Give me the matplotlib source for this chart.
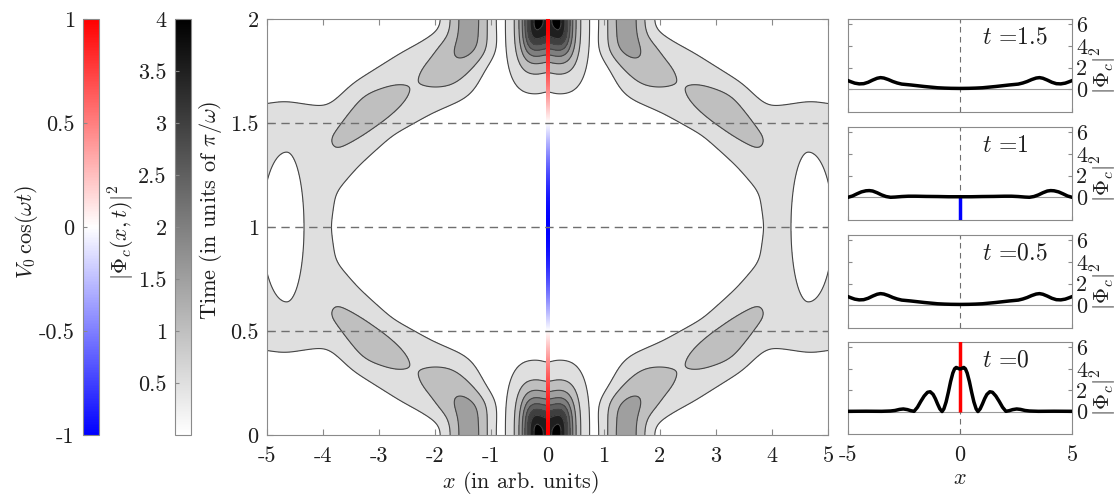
import numpy as np
import matplotlib
matplotlib.use('Agg')
import matplotlib.pyplot as plt
from matplotlib.colors import Normalize
from matplotlib.cm import ScalarMappable
from matplotlib.ticker import FixedLocator, FixedFormatter

plt.rcParams['font.family'] = 'serif'
plt.rcParams['font.serif'] = ['cmr10']
plt.rcParams['mathtext.fontset'] = 'cm'
plt.rcParams['axes.unicode_minus'] = False
plt.rcParams['axes.formatter.use_mathtext'] = True

# snapshots of |Phi_c|^2 at t = 0, 0.5 (= 1.5) and 1 (right half, mirrored below)
x_t0 = [0, 0.05, 0.1, 0.17, 0.24, 0.32, 0.42, 0.52, 0.62, 0.72, 0.8, 0.9, 1.0, 1.1,
        1.2, 1.33, 1.45, 1.6, 1.75, 1.9, 2.05, 2.2, 2.35, 2.53, 2.7, 2.9, 3.1, 3.5,
        4.2, 5.0]
rho_t0 = [3.98, 4.0, 4.06, 4.12, 4.0, 3.6, 2.8, 1.8, 0.9, 0.25, 0.0, 0.25, 0.7, 1.2,
          1.6, 1.85, 1.8, 1.45, 0.95, 0.4, 0.02, 0.08, 0.18, 0.24, 0.2, 0.1, 0.05, 0.02,
          0.03, 0.02]

x_t05 = [0, 0.4, 0.7, 1.0, 1.3, 1.6, 1.9, 2.2, 2.4, 2.6, 2.8, 3.0, 3.2, 3.4, 3.55,
         3.7, 3.9, 4.1, 4.3, 4.5, 4.7, 4.85, 5.0]
rho_t05 = [0.08, 0.09, 0.11, 0.14, 0.2, 0.26, 0.33, 0.4, 0.44, 0.48, 0.58, 0.72, 0.9,
           1.04, 1.08, 1.02, 0.85, 0.65, 0.52, 0.5, 0.57, 0.68, 0.8]

x_t1 = [0, 0.5, 1.0, 1.5, 2.0, 2.3, 2.6, 2.9, 3.1, 3.3, 3.5, 3.7, 3.9, 4.05, 4.2,
        4.4, 4.6, 4.8, 5.0]
rho_t1 = [0.05, 0.05, 0.07, 0.08, 0.1, 0.1, 0.07, 0.02, 0.0, 0.07, 0.22, 0.42, 0.58,
          0.62, 0.6, 0.5, 0.32, 0.12, 0.0]

panel_times = [1.5, 1, 0.5, 0]
panel_labels = ['1.5', '1', '0.5', '0']

# central lobe: peak value, half-width (x) and half-height (t) of the 0.5 contour
lobe_peak = 4.17
lobe_halfwidth = 0.60
lobe_halfheight = 0.36

# ridges of the density carpet (x >= 0, t <= 1; mirrored to the rest)
# x, t, half-width at the 0.5 level, ridge height
ridge_a_x = [1.38, 1.42, 1.82, 2.35, 3.10, 3.70, 4.10, 4.13]
ridge_a_t = [-0.10, 0.12, 0.24, 0.31, 0.43, 0.58, 0.80, 1.05]
ridge_a_w = [0.42, 0.49, 0.62, 0.60, 0.57, 0.56, 0.34, 0.25]
ridge_a_h = [2.05, 1.90, 1.30, 0.97, 1.30, 1.08, 0.82, 0.75]

ridge_b_x = [3.70, 4.70, 5.40]
ridge_b_t = [0.58, 0.60, 0.66]
ridge_b_w = [0.56, 0.76, 0.90]
ridge_b_h = [1.00, 0.85, 0.90]

# low-density island near the edge at t = 1
island_x, island_t = 4.65, 1.0
island_ax = (0.31, 0.44)   # reach to the left / right
island_at = 0.36

t_stretch = 3.71  # plot units of t per unit of x on screen

xg = np.linspace(-5.5, 5.5, 881)
tg = np.linspace(0, 2, 801)
X, T = np.meshgrid(xg, tg)
AX = np.abs(X)
TAU = 1 - np.abs(1 - T)


def ridge(px, pt, pw, ph):
    out = np.zeros_like(AX)
    ys = TAU * t_stretch
    for i in range(len(px) - 1):
        x0, y0 = px[i], pt[i] * t_stretch
        x1, y1 = px[i + 1], pt[i + 1] * t_stretch
        dx, dy = x1 - x0, y1 - y0
        u = np.clip(((AX - x0) * dx + (ys - y0) * dy) / (dx * dx + dy * dy), 0, 1)
        d = np.hypot(AX - x0 - u * dx, ys - y0 - u * dy)
        w = pw[i] + (pw[i + 1] - pw[i]) * u
        h = ph[i] + (ph[i + 1] - ph[i]) * u
        out = np.maximum(out, h * (0.5 / h) ** ((d / w) ** 2))
    return out


def soften(a, sig_x, sig_t):
    # gaussian blur in grid samples, mirrored at the borders
    for axis, sig in ((1, sig_x), (0, sig_t)):
        n = int(3 * sig)
        k = np.exp(-0.5 * (np.arange(-n, n + 1) / sig) ** 2)
        k /= k.sum()
        pad = [(0, 0), (0, 0)]
        pad[axis] = (n, n)
        b = np.pad(a, pad, mode='reflect')
        a = np.apply_along_axis(lambda v: np.convolve(v, k, mode='valid'), axis, b)
    return a


xs = np.clip(AX - 0.15, 0, None)
r = ((xs / lobe_halfwidth) ** 3 + (TAU / lobe_halfheight) ** 3) ** (1 / 3)
lobe = lobe_peak / (1 + (r / 0.486) ** 2.76) * (1 - 0.06 * np.exp(-(X / 0.12) ** 2))

band = np.maximum(ridge(ridge_a_x, ridge_a_t, ridge_a_w, ridge_a_h),
                  ridge(ridge_b_x, ridge_b_t, ridge_b_w, ridge_b_h))
band = soften(band, 11, 13)

dx_i = AX - island_x
ri2 = (dx_i / np.where(dx_i < 0, island_ax[0], island_ax[1])) ** 2 + ((TAU - island_t) / island_at) ** 2
band = np.minimum(band, 0.5 * ri2)

dens = np.maximum(lobe, band)

fig = plt.figure(figsize=(11.17, 4.98), dpi=100)
W, H = 1117, 498


def box(x0, y0, x1, y1):
    return [x0 / W, 1 - y1 / H, (x1 - x0) / W, (y1 - y0) / H]


spine_c = '#8a8a8a'
txt_c = '#1e1e1e'
fs = 16

gray = plt.get_cmap('gray_r')
levels = [0.5, 1.0, 1.5, 2.0, 2.5, 3.0, 3.5, 4.0]

# main carpet
ax = fig.add_axes(box(267, 19, 828, 435))
ax.contourf(X, T, dens, levels=levels + [50], colors=[gray(v / 4) for v in levels])
ax.contour(X, T, dens, levels=levels, colors='#444444', linewidths=0.8)
t_strip = np.linspace(0, 2, 400)
ax.imshow(np.cos(np.pi * t_strip)[:, None], extent=[-0.028, 0.028, 0, 2], origin='lower',
          cmap='bwr', vmin=-1, vmax=1, aspect='auto', zorder=3, interpolation='bilinear')
for tl in [0.5, 1.0, 1.5]:
    ax.axhline(tl, color='#6f6f6f', lw=1.0, dashes=(6, 4), zorder=4)
ax.set_xlim(-5, 5)
ax.set_ylim(0, 2)
ax.xaxis.set_major_locator(FixedLocator(range(-5, 6)))
ax.xaxis.set_major_formatter(FixedFormatter([str(v) for v in range(-5, 6)]))
ax.yaxis.set_major_locator(FixedLocator([0, 0.5, 1, 1.5, 2]))
ax.yaxis.set_major_formatter(FixedFormatter(['0', '0.5', '1', '1.5', '2']))
ax.tick_params(direction='in', top=True, right=True, length=4, color=spine_c,
               labelsize=fs, labelcolor=txt_c, pad=6)
ax.tick_params(axis='x', pad=8)
for s in ax.spines.values():
    s.set_color(spine_c)
fig.text(521 / W, 1 - 482 / H, r'$x$ (in arb. units)', fontsize=fs, color=txt_c,
         ha='center', va='center')
fig.text(211 / W, 1 - 210 / H, r'Time (in units of $\pi/\omega$)', fontsize=fs,
         color=txt_c, ha='center', va='center', rotation=90)

# colour bars
cb1 = fig.add_axes(box(83, 19, 99, 435))
bar1 = fig.colorbar(ScalarMappable(Normalize(-1, 1), 'bwr'), cax=cb1)
cb1.yaxis.set_ticks_position('left')
cb1.yaxis.set_major_locator(FixedLocator([-1, -0.5, 0, 0.5, 1]))
cb1.yaxis.set_major_formatter(FixedFormatter(['-1', '-0.5', '0', '0.5', '1']))
fig.text(27 / W, 1 - 232 / H, r'$V_0\,\cos(\omega t)$', fontsize=fs, color=txt_c,
         ha='center', va='center', rotation=90)

cb2 = fig.add_axes(box(175, 19, 191, 435))
bar2 = fig.colorbar(ScalarMappable(Normalize(0, 4), gray), cax=cb2)
cb2.yaxis.set_ticks_position('left')
cb2.yaxis.set_major_locator(FixedLocator([0.5, 1, 1.5, 2, 2.5, 3, 3.5, 4]))
cb2.yaxis.set_major_formatter(FixedFormatter(['0.5', '1', '1.5', '2', '2.5', '3', '3.5', '4']))
fig.text(122 / W, 1 - 232 / H, r'$|\Phi_c(x,t)|^2$', fontsize=fs, color=txt_c,
         ha='center', va='center', rotation=90)

for cax, bar in ((cb1, bar1), (cb2, bar2)):
    cax.tick_params(direction='in', length=3, color=spine_c, labelsize=fs,
                    labelcolor=txt_c, pad=6)
    bar.outline.set_edgecolor(spine_c)

# snapshot panels
rows = [(19, 112), (127, 220), (235, 328), (342, 434)]
profiles = [(x_t05, rho_t05), (x_t1, rho_t1), (x_t05, rho_t05), (x_t0, rho_t0)]
for k, ((y0, y1), (px, py), tp, lab) in enumerate(zip(rows, profiles, panel_times, panel_labels)):
    pa = fig.add_axes(box(848, y0, 1072, y1))
    pa.axhline(0, color='#9a9a9a', lw=0.8)
    pa.axvline(0, color='#6f6f6f', lw=0.8, dashes=(5, 4))
    v = np.cos(np.pi * tp)
    if abs(v) > 1e-6:
        pa.plot([0, 0], [0, 10 * v], color='red' if v > 0 else 'blue', lw=2.5,
                solid_capstyle='butt', zorder=3)
    xx = [-a for a in px[::-1]] + list(px[1:])
    yy = list(py[::-1]) + list(py[1:])
    pa.plot(xx, yy, color='black', lw=2.5, zorder=4, solid_joinstyle='round')
    pa.set_xlim(-5, 5)
    pa.set_ylim(-2.1, 6.5)
    pa.text(0.6, 0.8, r'$t$ =' + lab, transform=pa.transAxes, fontsize=fs + 1,
            color=txt_c, va='center')
    pa.yaxis.set_major_locator(FixedLocator([0, 2, 4, 6]))
    pa.yaxis.set_major_formatter(FixedFormatter(['0', '2', '4', '6']))
    pa.xaxis.set_major_locator(FixedLocator([-5, 0, 5]))
    pa.xaxis.set_major_formatter(FixedFormatter(['-5', '0', '5']))
    pa.tick_params(direction='in', left=True, right=True, labelleft=False, labelright=True,
                   top=True, length=3, color=spine_c, labelsize=fs, labelcolor=txt_c, pad=3)
    pa.tick_params(axis='x', labelbottom=(k == 3), pad=8)
    for s in pa.spines.values():
        s.set_color(spine_c)
    pa.text(1.143, 0.45, r'$|\Phi_c|^2$', transform=pa.transAxes, fontsize=fs,
            color=txt_c, rotation=90, ha='center', va='center')

fig.text(960 / W, 1 - 478 / H, r'$x$', fontsize=fs, color=txt_c, ha='center', va='center')

fig.savefig('out.png', dpi=100)
